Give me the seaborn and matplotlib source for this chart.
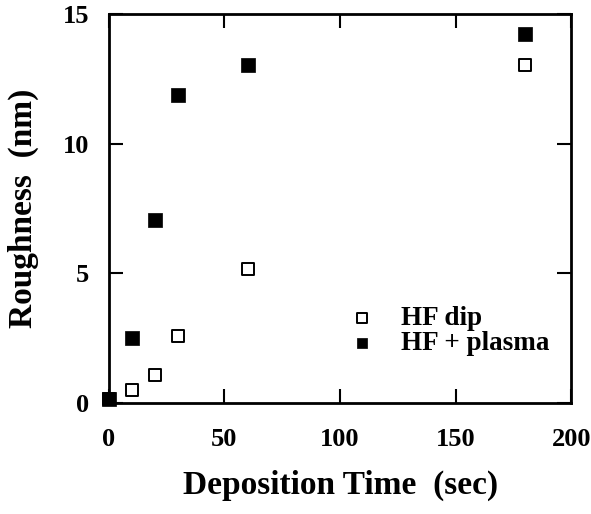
import matplotlib
matplotlib.use("Agg")
import matplotlib.pyplot as plt
import seaborn as sns
import pandas as pd

# Data
time_sec = [0, 10, 20, 30, 60, 180]
hf_dip = [0.15, 0.49, 1.07, 2.58, 5.15, 13.03]
hf_plasma = [0.15, 2.49, 7.05, 11.88, 13.04, 14.22]
x_ticks = [0, 50, 100, 150, 200]
y_ticks = [0, 5, 10, 15]

sns.set_theme(style="ticks")
plt.rcParams['font.family'] = ['Liberation Serif', 'DejaVu Serif']
plt.rcParams['font.weight'] = 'bold'
plt.rcParams['text.color'] = 'black'
plt.rcParams['axes.labelcolor'] = 'black'
plt.rcParams['xtick.color'] = 'black'
plt.rcParams['ytick.color'] = 'black'

fig = plt.figure(figsize=(5.91, 5.14), dpi=100)
ax = fig.add_axes([0.184, 0.2165, 0.783, 0.7563])

sns.scatterplot(x=time_sec, y=hf_dip, marker='s', s=80, facecolor='white',
                edgecolor='black', linewidth=1.4, label='HF dip', ax=ax, zorder=3,
                clip_on=False)
sns.scatterplot(x=time_sec, y=hf_plasma, marker='s', s=110, color='black',
                edgecolor='black', linewidth=0.5, label='HF + plasma', ax=ax, zorder=4,
                clip_on=False)

ax.set_xlim(0, 200)
ax.set_ylim(0, 15)
ax.set_xticks(x_ticks)
ax.set_yticks(y_ticks)
ax.tick_params(direction='in', length=10, width=1.5, top=True, right=True,
               labelsize=19, colors='black')
ax.tick_params(axis='x', pad=18)
ax.tick_params(axis='y', pad=14)
for lbl in ax.get_xticklabels() + ax.get_yticklabels():
    lbl.set_fontweight('bold')
for sp in ax.spines.values():
    sp.set_linewidth(2)
    sp.set_color('black')

ax.set_xlabel('Deposition Time  (sec)', fontsize=24, fontweight='bold', labelpad=14,
              color='black')
ax.set_ylabel('Roughness  (nm)', fontsize=24, fontweight='bold', color='black')
ax.yaxis.set_label_coords(-0.15, 0.5)

leg = ax.legend(loc='center left', bbox_to_anchor=(0.482, 0.185), frameon=False,
                markerscale=0.75, handlelength=1.2, handletextpad=0.85,
                labelspacing=0.0, borderpad=0, prop={'weight': 'bold', 'size': 19.5})
for t in leg.get_texts():
    t.set_color('black')

fig.savefig('out.png', dpi=100)
